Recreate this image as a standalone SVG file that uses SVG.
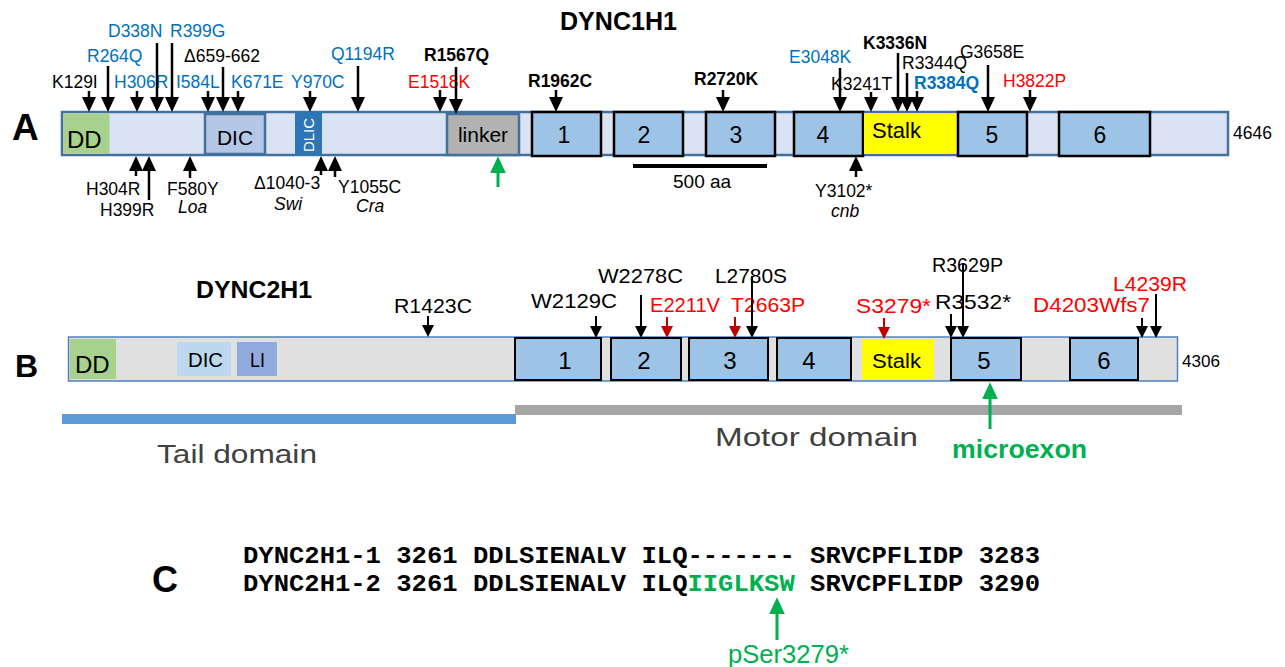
<svg xmlns="http://www.w3.org/2000/svg" width="1285" height="667" viewBox="0 0 1285 667">
<style>
text{font-family:"Liberation Sans",Arial,sans-serif;fill:#000}
.lab{font-size:17.5px}
.bl{fill:#0070c0}
.rd{fill:#ff0000}
.b{font-weight:bold}
.it{font-style:italic}
.lb{font-size:21px}
.num{font-size:23px;text-anchor:middle}
.numb{font-size:24px;text-anchor:middle}
.panel{font-weight:bold}
.bar{fill:#dae3f3;stroke:#41719c;stroke-width:2.5}
.box{fill:#9dc3e6;stroke:#000;stroke-width:2.5}
.boxb{fill:#9dc3e6;stroke:#000;stroke-width:2}
.sh{stroke:#000;stroke-width:2.5;fill:none;marker-end:url(#ah)}
.shs{stroke:#000;stroke-width:2;fill:none;marker-end:url(#ahs)}
.shr{stroke:#c00000;stroke-width:2;fill:none;marker-end:url(#ahr)}
.shg{stroke:#00b050;stroke-width:3;fill:none;marker-end:url(#ahg)}
.seq{font-family:"Liberation Mono","Courier New",monospace;font-weight:bold;font-size:24px}
.dom{font-size:26px;fill:#404040}
</style>
<defs>
<marker id="ah" viewBox="0 0 10 10" refX="6.67" refY="5" markerUnits="userSpaceOnUse" markerWidth="15" markerHeight="14" orient="auto" preserveAspectRatio="none"><path d="M0,0 L10,5 L0,10 z" fill="#000"/></marker>
<marker id="ahs" viewBox="0 0 10 10" refX="6.67" refY="5" markerUnits="userSpaceOnUse" markerWidth="12" markerHeight="12" orient="auto" preserveAspectRatio="none"><path d="M0,0 L10,5 L0,10 z" fill="#000"/></marker>
<marker id="ahr" viewBox="0 0 10 10" refX="6.67" refY="5" markerUnits="userSpaceOnUse" markerWidth="12" markerHeight="12" orient="auto" preserveAspectRatio="none"><path d="M0,0 L10,5 L0,10 z" fill="#c00000"/></marker>
<marker id="ahg" viewBox="0 0 10 10" refX="6.67" refY="5" markerUnits="userSpaceOnUse" markerWidth="17" markerHeight="16" orient="auto" preserveAspectRatio="none"><path d="M0,0 L10,5 L0,10 z" fill="#00b050"/></marker>
</defs>
<rect width="1285" height="667" fill="#fff"/>

<!-- Panel A -->
<text class="panel" x="12" y="140" font-size="37">A</text>
<text class="b" x="560" y="30" font-size="25" textLength="117" lengthAdjust="spacingAndGlyphs">DYNC1H1</text>
<g id="a-bar"><rect class="bar" x="62" y="112" width="1166" height="43"/></g>
<g id="a-dd"><rect x="63.5" y="113.5" width="46" height="40" fill="#a9d18e"/><text x="67" y="148" font-size="24">DD</text></g>
<g id="a-dic"><rect x="205" y="114" width="60" height="40" fill="#b4c7e7" stroke="#41719c" stroke-width="2.5"/><text x="235" y="145" font-size="21" text-anchor="middle">DIC</text></g>
<g id="a-dlic"><rect x="295" y="112" width="27" height="43" fill="#2e75b6"/><text transform="translate(314,135) rotate(-90)" font-size="15" text-anchor="middle" style="fill:#fff">DLIC</text></g>
<g id="a-linker"><rect x="447" y="114" width="72" height="41" fill="#b2b2b2" stroke="#41719c" stroke-width="2.5"/><text x="483" y="142" font-size="21" text-anchor="middle">linker</text></g>
<g id="a-1"><rect class="box" x="532" y="112" width="69" height="44"/><text class="num" x="564" y="143">1</text></g>
<g id="a-2"><rect class="box" x="614" y="112" width="69" height="44"/><text class="num" x="644" y="143">2</text></g>
<g id="a-3"><rect class="box" x="706" y="112" width="69" height="44"/><text class="num" x="736" y="143">3</text></g>
<g id="a-4"><rect class="box" x="794" y="112" width="69" height="44"/><text class="num" x="823" y="143">4</text></g>
<g id="a-stalk"><rect x="864" y="113" width="92" height="41" fill="#ffff00"/><text x="872" y="138" font-size="22">Stalk</text></g>
<g id="a-5"><rect class="box" x="958" y="112" width="69" height="44"/><text class="num" x="992" y="143">5</text></g>
<g id="a-6"><rect class="box" x="1059" y="112" width="91" height="44"/><text class="num" x="1100" y="143">6</text></g>
<text x="1233" y="139" font-size="17.5">4646</text>
<g id="a-scale"><rect x="633" y="164" width="134" height="4" fill="#000"/><text x="673" y="188" font-size="19">500 aa</text></g>

<g id="a-labels">
<text class="lab" x="52" y="88">K129I</text>
<text class="lab bl" x="87" y="62">R264Q</text>
<text class="lab bl" x="114" y="88">H306R</text>
<text class="lab bl" x="108" y="37">D338N</text>
<text class="lab bl" x="170" y="37">R399G</text>
<text class="lab bl" x="176" y="88">I584L</text>
<text class="lab" x="184" y="62">Δ659-662</text>
<text class="lab bl" x="231" y="88">K671E</text>
<text class="lab bl" x="291" y="88">Y970C</text>
<text class="lab bl" x="331" y="60">Q1194R</text>
<text class="lab rd" x="408" y="88">E1518K</text>
<text class="lab b" x="424" y="61">R1567Q</text>
<text class="lab b" x="528" y="87">R1962C</text>
<text class="lab b" x="694" y="85">R2720K</text>
<text class="lab bl" x="789" y="63">E3048K</text>
<text class="lab" x="831" y="90">K3241T</text>
<text class="lab b" x="863" y="49">K3336N</text>
<text class="lab" x="902" y="69">R3344Q</text>
<text class="lab b bl" x="914" y="89">R3384Q</text>
<text class="lab" x="960" y="58">G3658E</text>
<text class="lab rd" x="1003" y="87">H3822P</text>
<text class="lab" x="86" y="195">H304R</text>
<text class="lab" x="100" y="216">H399R</text>
<text class="lab" x="167" y="195">F580Y</text>
<text class="lab it" x="178" y="213">Loa</text>
<text class="lab" x="254" y="189">Δ1040-3</text>
<text class="lab it" x="274" y="210">Swi</text>
<text class="lab" x="338" y="193">Y1055C</text>
<text class="lab it" x="356" y="212">Cra</text>
<text class="lab" x="815" y="197">Y3102*</text>
<text class="lab it" x="831" y="217">cnb</text>
</g>

<!-- Panel B -->
<text class="panel" x="15" y="377" font-size="32">B</text>
<text class="b" x="196" y="298" font-size="24" textLength="116" lengthAdjust="spacingAndGlyphs">DYNC2H1</text>
<g id="b-bar"><rect x="68.5" y="337" width="1109" height="44" fill="#e0e0e0" stroke="#4f81bd" stroke-width="1.5"/></g>
<g id="b-dd"><rect x="70" y="339" width="46" height="40" fill="#a9d18e"/><text x="75" y="373" font-size="24">DD</text></g>
<g id="b-dic"><rect x="177" y="342" width="54" height="34" fill="#bdd7ee"/><text x="188" y="367" font-size="20" textLength="35" lengthAdjust="spacingAndGlyphs">DIC</text></g>
<g id="b-li"><rect x="237" y="342" width="40" height="34" fill="#8faadc"/><text x="250" y="367" font-size="20" textLength="15" lengthAdjust="spacingAndGlyphs">LI</text></g>
<g id="b-1"><rect class="boxb" x="515" y="338" width="86" height="42"/><text class="numb" x="565" y="369">1</text></g>
<g id="b-2"><rect class="boxb" x="611" y="338" width="70" height="42"/><text class="numb" x="644" y="369">2</text></g>
<g id="b-3"><rect class="boxb" x="689" y="338" width="79" height="42"/><text class="numb" x="730" y="369">3</text></g>
<g id="b-4"><rect class="boxb" x="777" y="338" width="74" height="42"/><text class="numb" x="809" y="369">4</text></g>
<g id="b-stalk"><rect x="862" y="339" width="72" height="40" fill="#ffff00"/><text x="872" y="368" font-size="20" textLength="49" lengthAdjust="spacingAndGlyphs">Stalk</text></g>
<g id="b-5"><rect class="boxb" x="951" y="338" width="70" height="42"/><text class="numb" x="984" y="369">5</text></g>
<g id="b-6"><rect class="boxb" x="1070" y="338" width="68" height="42"/><text class="numb" x="1104" y="369">6</text></g>
<text x="1182" y="367" font-size="17" textLength="38" lengthAdjust="spacingAndGlyphs">4306</text>
<g id="b-tail"><rect x="62" y="414" width="454" height="10" fill="#5b9bd5"/><text class="dom" x="157" y="463" textLength="160" lengthAdjust="spacingAndGlyphs">Tail domain</text></g>
<g id="b-motor"><rect x="515" y="405" width="667" height="10" fill="#a6a6a6"/><text class="dom" x="715" y="446" textLength="203" lengthAdjust="spacingAndGlyphs">Motor domain</text></g>
<text class="b" x="952" y="458" font-size="25" textLength="135" lengthAdjust="spacingAndGlyphs" style="fill:#00b050">microexon</text>

<g id="b-labels">
<text class="lb" x="394" y="313" textLength="78" lengthAdjust="spacingAndGlyphs">R1423C</text>
<text class="lb" x="531" y="308" textLength="86" lengthAdjust="spacingAndGlyphs">W2129C</text>
<text class="lb" x="598" y="283" textLength="85" lengthAdjust="spacingAndGlyphs">W2278C</text>
<text class="lb rd" x="650" y="312" textLength="70" lengthAdjust="spacingAndGlyphs">E2211V</text>
<text class="lb rd" x="731" y="312" textLength="74" lengthAdjust="spacingAndGlyphs">T2663P</text>
<text class="lb" x="715" y="283" textLength="72" lengthAdjust="spacingAndGlyphs">L2780S</text>
<text class="lb rd" x="856" y="313" textLength="75" lengthAdjust="spacingAndGlyphs">S3279*</text>
<text class="lb" x="935" y="309" textLength="76" lengthAdjust="spacingAndGlyphs">R3532*</text>
<text class="lb" x="932" y="272" textLength="71" lengthAdjust="spacingAndGlyphs">R3629P</text>
<text class="lb rd" x="1033" y="312" textLength="117" lengthAdjust="spacingAndGlyphs">D4203Wfs7</text>
<text class="lb rd" x="1113" y="291" textLength="74" lengthAdjust="spacingAndGlyphs">L4239R</text>
</g>

<!-- Panel C -->
<text class="panel" x="152" y="592" font-size="36">C</text>
<g id="c-seq">
<text class="seq" x="243" y="563" textLength="797" lengthAdjust="spacingAndGlyphs" xml:space="preserve">DYNC2H1-1 3261 DDLSIENALV ILQ------- SRVCPFLIDP 3283</text>
<text class="seq" x="243" y="591" textLength="797" lengthAdjust="spacingAndGlyphs" xml:space="preserve">DYNC2H1-2 3261 DDLSIENALV ILQ<tspan style="fill:#00b050">IIGLKSW</tspan> SRVCPFLIDP 3290</text>
</g>
<text x="728" y="663" font-size="25" textLength="121" lengthAdjust="spacingAndGlyphs" style="fill:#00b050">pSer3279*</text>

<g id="connectors">
<path class="sh" d="M89,91 V107"/>
<path class="sh" d="M108,66 V107"/>
<path class="sh" d="M137,91 V107"/>
<path class="sh" d="M157,43 V107"/>
<path class="sh" d="M172,43 V107"/>
<path class="sh" d="M208,91 V107"/>
<path class="sh" d="M223,67 V107"/>
<path class="sh" d="M238,91 V107"/>
<path class="sh" d="M310,91 V107"/>
<path class="sh" d="M358,66 V107"/>
<path class="sh" d="M440,90 V107"/>
<path class="sh" d="M456,67 V109"/>
<path class="sh" d="M556,90 V107"/>
<path class="sh" d="M723,90 V107"/>
<path class="sh" d="M840,68 V107"/>
<path class="sh" d="M871,92 V107"/>
<path class="sh" d="M898,53 V107"/>
<path class="sh" d="M907,73 V107"/>
<path class="sh" d="M917,91 V107"/>
<path class="sh" d="M988,65 V107"/>
<path class="sh" d="M1030,90 V107"/>
<path class="sh" d="M136,176 V161"/>
<path class="sh" d="M149,200 V161"/>
<path class="sh" d="M190,178 V161"/>
<path class="sh" d="M321,175 V161"/>
<path class="sh" d="M335,177 V161"/>
<path class="sh" d="M856,177 V161"/>
<path class="shg" d="M498,187 V162"/>
<path class="shs" d="M428,316 V333"/>
<path class="shs" d="M596,316 V334"/>
<path class="shs" d="M641,295 V334"/>
<path class="shr" d="M667,317 V334"/>
<path class="shr" d="M735,317 V334"/>
<path class="shs" d="M752,276 V334"/>
<path class="shr" d="M884,318 V335"/>
<path class="shs" d="M951,314 V334"/>
<path class="shs" d="M963,263 V334"/>
<path class="shs" d="M1142,318 V334"/>
<path class="shs" d="M1156,294 V334"/>
<path class="shg" d="M990,429 V388"/>
<path class="shg" d="M777,640 V603"/>
</g>
</svg>
